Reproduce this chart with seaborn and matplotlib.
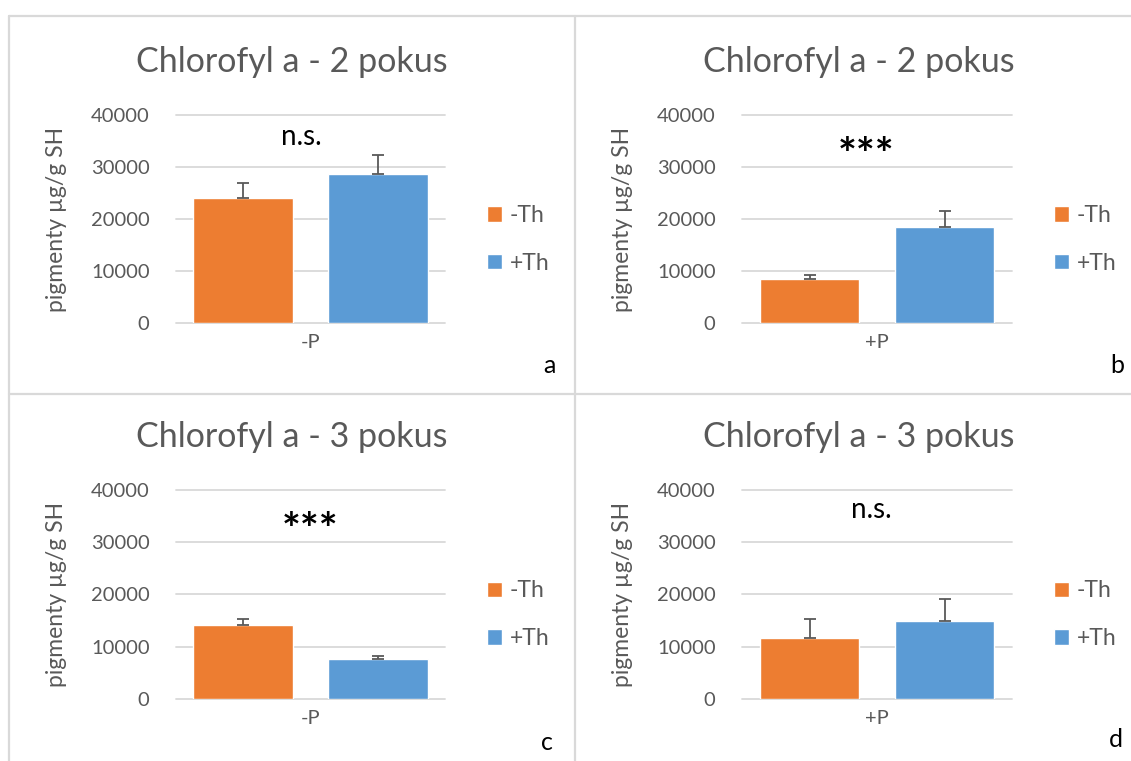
import pandas as pd
import numpy as np
import seaborn as sns
import matplotlib.pyplot as plt
from matplotlib.lines import Line2D

sns.set_style("white")
plt.rcParams["font.family"] = ["Lato", "DejaVu Sans"]

# data
titles = ["Chlorofyl a - 2 pokus", "Chlorofyl a - 2 pokus",
          "Chlorofyl a - 3 pokus", "Chlorofyl a - 3 pokus"]
groups = ["-P", "+P", "-P", "+P"]
treatments = ["-Th", "+Th"]
minus_th = [24100, 8520, 14140, 11660]
plus_th = [28700, 18520, 7640, 14900]
err_minus_th = [2750, 830, 1150, 3570]
err_plus_th = [3700, 3130, 640, 4210]
signif = ["n.s.", "***", "***", "n.s."]
letters = ["a", "b", "c", "d"]

palette = ["#ED7D31", "#5B9BD5"]
grey = "#595959"
W, H = 1131, 761

fig = plt.figure(figsize=(W / 100, H / 100), dpi=100, facecolor="w")

def fx(px):
    return px / W

def fy(py):
    return 1 - py / H

# plot areas in pixels: left, top, right, bottom
boxes = [(176, 115, 445, 323.3), (742, 115, 1012, 323.3),
         (176, 489.7, 445, 699), (742, 489.7, 1012, 699)]
title_pos = [(292, 72), (859, 72), (292, 447), (859, 447)]
letter_pos = [(549, 373), (1117, 373), (547, 750), (1116, 747)]
# text anchors (x in category units, y in data units, baseline)
sig_pos = [(-0.033, 34300), (-0.041, 29700), (0.0, 29600), (-0.02, 34500)]

# chart borders
for x0, y0, x1, y1 in [(9, 16, 1131, 16), (9, 394, 1131, 394),
                       (9, 16, 9, 761), (575, 16, 575, 761)]:
    fig.add_artist(Line2D([fx(x0), fx(x1)], [fy(y0), fy(y1)],
                          color="#d9d9d9", lw=1.6))

for i in range(4):
    l, t, r, b = boxes[i]
    ax = fig.add_axes([fx(l), fy(b), fx(r) - fx(l), fy(t) - fy(b)])
    df = pd.DataFrame({"group": [groups[i]] * 2,
                       "treatment": treatments,
                       "value": [minus_th[i], plus_th[i]]})
    sns.barplot(data=df, x="group", y="value", hue="treatment",
                hue_order=treatments, palette=palette, width=1, gap=0.26,
                saturation=1, errorbar=None, ax=ax, zorder=2)
    errs = [err_minus_th[i], err_plus_th[i]]
    for cont, e in zip(ax.containers, errs):
        p = cont.patches[0]
        ax.errorbar(p.get_x() + p.get_width() / 2, p.get_height(),
                    yerr=[[0], [e]], fmt="none", ecolor=grey,
                    elinewidth=1.3, capsize=4.3, capthick=1.3, zorder=3)

    ax.set_xlim(-0.5, 0.5)
    ax.set_ylim(0, 40000)
    ax.set_yticks([0, 10000, 20000, 30000, 40000])
    ax.yaxis.grid(True, color="#d9d9d9", lw=1.3)
    for gl in ax.get_ygridlines():
        gl.set_clip_on(False)
    ax.set_axisbelow(True)
    for s in ax.spines.values():
        s.set_visible(False)
    ax.tick_params(axis="both", length=0, labelsize=14.5, labelcolor=grey)
    ax.tick_params(axis="y", pad=19)
    ax.tick_params(axis="x", pad=8)
    ax.set_xlabel("")
    ax.set_ylabel("pigmenty µg/g SH", fontsize=16.5, color=grey)
    ax.yaxis.set_label_coords(-0.405, 0.5)

    star = signif[i] == "***"
    ax.text(sig_pos[i][0], sig_pos[i][1], signif[i], ha="center", va="baseline",
            color="k", fontsize=32 if star else 20,
            fontweight="bold" if star else "normal")

    sns.move_legend(ax, "center left", bbox_to_anchor=(1.156, 0.403),
                    title=None, frameon=False, fontsize=16.5, labelcolor=grey,
                    handlelength=0.66, handleheight=0.66, handletextpad=0.32,
                    labelspacing=1.15, borderpad=0, borderaxespad=0)

    fig.text(fx(title_pos[i][0]), fy(title_pos[i][1]), titles[i],
             ha="center", va="baseline", fontsize=24.5, color=grey)
    fig.text(fx(letter_pos[i][0]), fy(letter_pos[i][1]), letters[i],
             ha="center", va="baseline", fontsize=18, color="k")

fig.savefig("out.png", dpi=100)
